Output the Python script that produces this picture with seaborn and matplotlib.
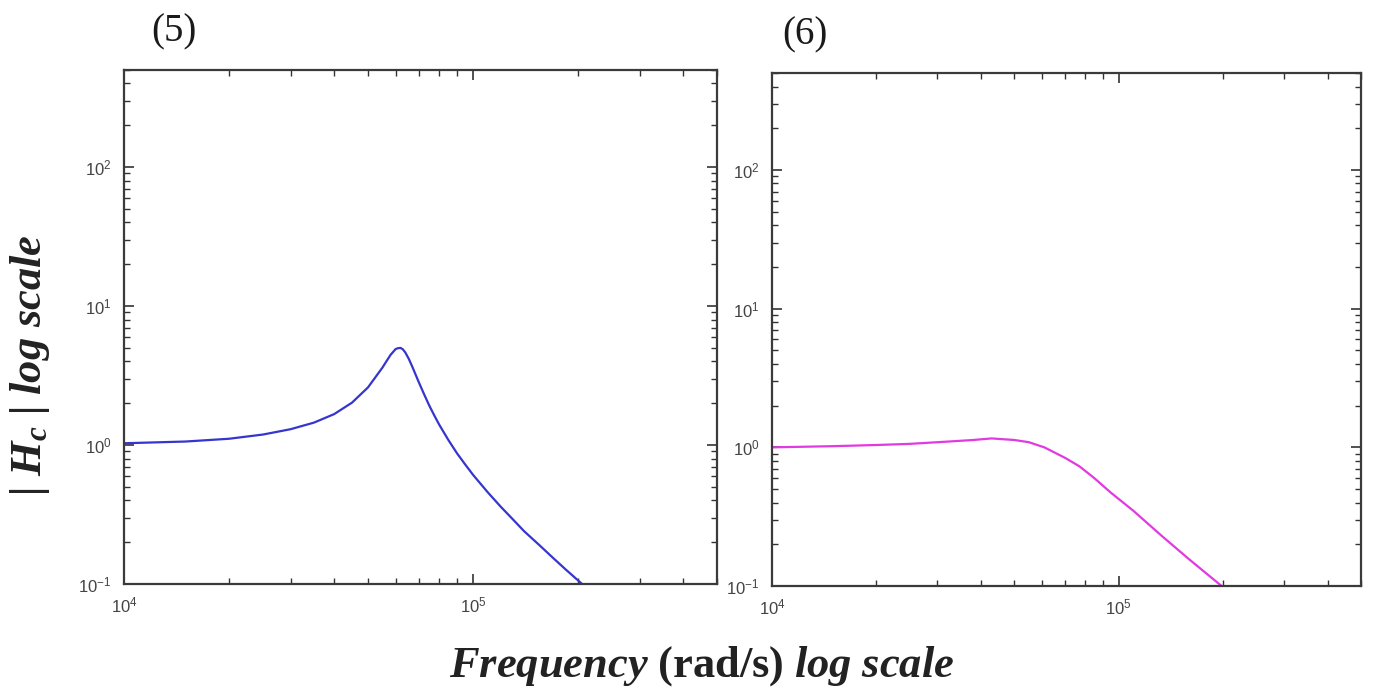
import numpy as np
import pandas as pd
import matplotlib.pyplot as plt
import seaborn as sns
from matplotlib.ticker import LogLocator, NullFormatter

# values
freq_5 = [1.0e4, 1.5e4, 2.0e4, 2.5e4, 3.0e4, 3.5e4, 4.0e4, 4.5e4, 5.0e4, 5.5e4,
          5.6e4, 5.8e4, 6.0e4, 6.1e4, 6.2e4, 6.3e4, 6.4e4, 6.55e4, 6.7e4, 7.0e4,
          7.25e4, 7.5e4, 7.75e4, 8.0e4, 8.5e4, 9.0e4, 9.5e4, 1.0e5, 1.1e5, 1.2e5,
          1.3e5, 1.4e5, 1.55e5, 1.7e5, 1.85e5, 2.0e5, 2.1e5]
mag_5 = [1.03, 1.06, 1.11, 1.19, 1.30, 1.45, 1.67, 2.02, 2.60, 3.61,
         3.88, 4.45, 4.91, 4.98, 5.00, 4.87, 4.62, 4.15, 3.65, 2.81,
         2.30, 1.91, 1.625, 1.40, 1.085, 0.87, 0.723, 0.61, 0.459, 0.36,
         0.292, 0.24, 0.19, 0.153, 0.126, 0.106, 0.095]

freq_6 = [1.0e4, 1.5e4, 2.0e4, 2.5e4, 3.2e4, 3.8e4, 4.3e4, 5.0e4, 5.5e4, 6.1e4,
          7.0e4, 7.7e4, 8.5e4, 9.5e4, 1.1e5, 1.33e5, 1.6e5, 1.98e5]
mag_6 = [1.0, 1.02, 1.04, 1.06, 1.10, 1.13, 1.16, 1.13, 1.09, 1.0,
         0.84, 0.73, 0.60, 0.47, 0.35, 0.23, 0.155, 0.10]

panel_labels = ["(5)", "(6)"]
line_colors = ["#3535cf", "#e03ae0"]

df5 = pd.DataFrame({"freq": freq_5, "mag": mag_5})
df6 = pd.DataFrame({"freq": freq_6, "mag": mag_6})

sns.set_theme(style="ticks")
plt.rcParams["font.family"] = ["Liberation Sans", "DejaVu Sans"]
plt.rcParams["axes.unicode_minus"] = False
plt.rcParams["mathtext.fontset"] = "custom"
plt.rcParams["mathtext.rm"] = "Liberation Serif"
plt.rcParams["mathtext.it"] = "Liberation Serif:italic"
plt.rcParams["mathtext.bf"] = "Liberation Serif:bold"
plt.rcParams["mathtext.bfit"] = "Liberation Serif:bold:italic"

fig = plt.figure(figsize=(13.75, 6.95), dpi=100)
ax1 = fig.add_axes([0.0902, 0.1597, 0.4313, 0.7396])
ax2 = fig.add_axes([0.5615, 0.1568, 0.4284, 0.7380])

for ax, df, col, lab in [(ax1, df5, line_colors[0], panel_labels[0]),
                         (ax2, df6, line_colors[1], panel_labels[1])]:
    sns.lineplot(data=df, x="freq", y="mag", ax=ax, color=col, linewidth=1.6,
                 estimator=None, sort=False)
    ax.set_xscale("log")
    ax.set_yscale("log")
    ax.set_xlim(1e4, 5e5)
    ax.set_ylim(0.1, 500)
    ax.set_xlabel("")
    ax.set_ylabel("")
    ax.xaxis.set_major_locator(LogLocator(base=10))
    ax.yaxis.set_major_locator(LogLocator(base=10))
    ax.xaxis.set_minor_locator(LogLocator(base=10, subs=np.arange(2, 10)))
    ax.yaxis.set_minor_locator(LogLocator(base=10, subs=np.arange(2, 10)))
    ax.xaxis.set_minor_formatter(NullFormatter())
    ax.yaxis.set_minor_formatter(NullFormatter())
    ax.tick_params(which="both", direction="in", top=True, right=True,
                   colors="#333333", labelcolor="#444444", labelsize=12)
    ax.tick_params(which="major", length=7, width=1.2)
    ax.tick_params(which="minor", length=4, width=1.0)
    ax.tick_params(axis="y", pad=9)
    ax.tick_params(axis="x", pad=8)
    for s in ax.spines.values():
        s.set_color("#3a3a3a")
        s.set_linewidth(1.6)
    ax.text(0.085 if ax is ax1 else 0.055, 1.075, lab, transform=ax.transAxes,
            fontsize=28, family="Liberation Serif", color="#1a1a1a",
            ha="center", va="center")

fig.text(0.51, 0.042,
         r"$\mathbfit{Frequency}\ \mathbf{(rad/s)}\ \mathbfit{log\ scale}$",
         fontsize=32, ha="center", va="center", color="#222222")
fig.text(0.022, 0.475, r"$\mathbfit{|\ H_c\ |\ log\ scale}$",
         fontsize=32, rotation=90, ha="center", va="center", color="#222222")

fig.savefig("out.png", dpi=100, facecolor="white")
